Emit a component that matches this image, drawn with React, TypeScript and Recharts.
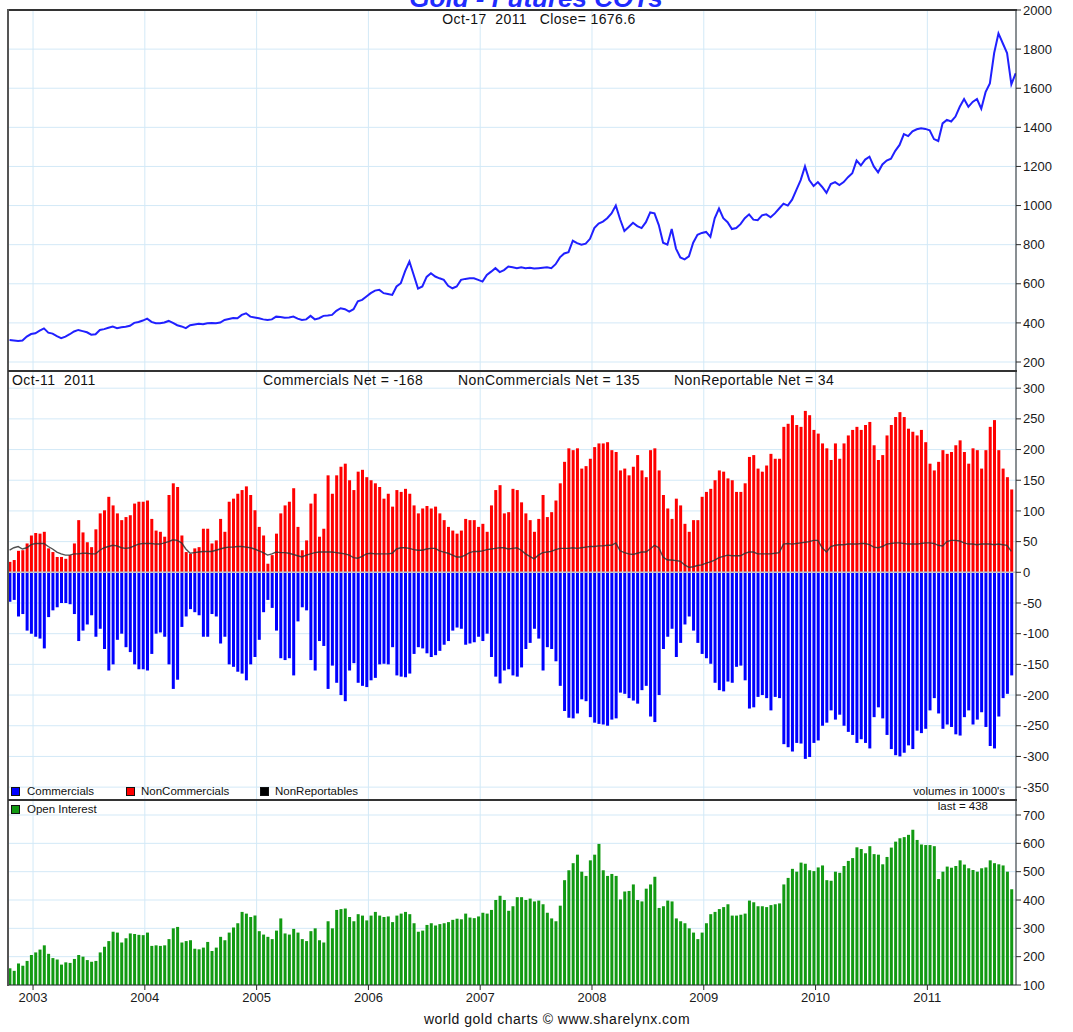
import React from 'react';
import { ComposedChart, Bar, Line, XAxis, YAxis, CartesianGrid, ReferenceLine } from 'recharts';

const FONT = '"Liberation Sans", Arial, Helvetica, sans-serif';
const GRID = '#d3e9f7';
const AXIS = '#2a2a2a';

// first reading early Oct 2002, one reading every two weeks
const firstWeek = 2002.79;
const weeksPerBar = 2;

const yearTicks = [2003, 2004, 2005, 2006, 2007, 2008, 2009, 2010, 2011];
const goldTicks = [200, 400, 600, 800, 1000, 1200, 1400, 1600, 1800, 2000];
const cotTicks = [-350, -300, -250, -200, -150, -100, -50, 0, 50, 100, 150, 200, 250, 300];
const oiTicks = [100, 200, 300, 400, 500, 600, 700];

// gold close (last point = Oct-17 2011 close)
const gold = [
  312, 310, 308, 310, 330, 343, 347, 360, 372, 350, 345, 332, 322, 330, 342, 356, 364, 358, 352, 340,
  342, 364, 368, 375, 381, 373, 378, 380, 385, 400, 405, 412, 422, 405, 398, 398, 402, 410, 400, 388,
  382, 373, 388, 392, 395, 393, 398, 400, 398, 402, 415, 420, 425, 424, 441, 449, 432, 428, 424, 418,
  415, 418, 432, 430, 426, 428, 432, 422, 415, 418, 436, 418, 424, 436, 438, 441, 462, 475, 470, 458,
  470, 510, 518, 535, 552, 565, 569, 552, 548, 543, 586, 603, 665, 714, 645, 575, 586, 635, 654, 637,
  628, 620, 590, 577, 586, 620, 625, 628, 628, 620, 611, 645, 662, 680, 660, 670, 688, 684, 680,
  684, 680, 682, 678, 680, 682, 684, 680, 700, 735, 755, 762, 820, 808, 800, 805, 830, 885, 908, 918,
  935, 960, 1000, 930, 870, 890, 912, 895, 885, 915, 965, 960, 900, 810, 800, 880, 780, 735, 725, 740,
  810, 850, 860, 865, 840, 935, 985, 935, 915, 880, 885, 905, 935, 955, 928, 925, 950, 955, 940, 960,
  985, 1010, 1000, 1030, 1080, 1130, 1200, 1130, 1100, 1120, 1095, 1065, 1110, 1120, 1105, 1120, 1145, 1165, 1230, 1205,
  1235, 1250, 1200, 1170, 1210, 1230, 1240, 1280, 1310, 1365, 1355, 1380, 1390, 1395, 1392, 1385, 1340, 1330, 1420, 1438,
  1430, 1455, 1505, 1545, 1505, 1530, 1545, 1495, 1580, 1625, 1780, 1880, 1830, 1780, 1620, 1676.6,
];

// net positions, thousands of contracts
const nonComm = [
  17, 20, 35, 36, 47, 60, 64, 63, 66, 39, 33, 25, 25, 22, 28, 47, 85, 65, 49, 41,
  70, 96, 101, 123, 109, 96, 85, 90, 93, 112, 115, 115, 117, 87, 68, 66, 58, 126, 145, 139,
  60, 33, 30, 39, 41, 71, 71, 47, 52, 87, 66, 115, 120, 128, 134, 140, 126, 101, 74, 60,
  14, 28, 63, 96, 109, 115, 137, 74, 36, 52, 112, 128, 58, 71, 158, 128, 158, 172, 177, 150,
  134, 164, 167, 155, 150, 145, 139, 120, 128, 107, 134, 131, 136, 128, 109, 96, 104, 108, 104, 107,
  96, 85, 74, 68, 63, 68, 87, 85, 85, 74, 79, 66, 109, 134, 142, 96, 98, 136, 134,
  114, 96, 85, 66, 87, 126, 90, 98, 117, 145, 180, 202, 199, 202, 169, 173, 185, 204, 210, 210,
  212, 199, 196, 166, 169, 158, 172, 191, 166, 155, 199, 202, 166, 126, 104, 87, 120, 109, 79, 66,
  85, 85, 123, 131, 136, 150, 166, 164, 153, 150, 131, 131, 145, 188, 191, 169, 164, 174, 193, 185,
  185, 237, 242, 256, 240, 237, 263, 256, 232, 226, 210, 202, 183, 210, 185, 210, 223, 232, 237, 232,
  240, 245, 207, 183, 191, 223, 240, 253, 261, 253, 234, 229, 223, 232, 212, 177, 166, 180, 199, 193,
  196, 207, 215, 196, 177, 202, 199, 169, 199, 237, 248, 199, 169, 155, 135,
];

const comm = [
  -48, -45, -72, -68, -95, -100, -105, -108, -124, -73, -62, -57, -50, -50, -52, -68, -112, -95, -85, -70,
  -105, -92, -125, -160, -150, -110, -100, -122, -130, -150, -158, -158, -160, -133, -100, -98, -105, -150, -190, -175,
  -89, -72, -60, -65, -70, -105, -105, -68, -72, -116, -105, -150, -154, -162, -165, -176, -150, -138, -110, -65,
  -45, -58, -95, -140, -143, -140, -168, -80, -57, -62, -143, -160, -112, -120, -190, -152, -180, -200, -210, -160,
  -148, -180, -185, -187, -176, -172, -150, -149, -150, -122, -168, -170, -171, -165, -133, -122, -124, -132, -138, -135,
  -128, -118, -112, -95, -90, -92, -118, -116, -114, -105, -112, -100, -138, -170, -181, -160, -158, -168, -170,
  -155, -125, -115, -92, -108, -160, -122, -125, -145, -185, -226, -237, -238, -230, -207, -210, -236, -245, -247, -248,
  -250, -240, -238, -196, -198, -205, -209, -214, -192, -185, -235, -244, -200, -125, -105, -92, -138, -115, -85, -72,
  -95, -115, -133, -140, -149, -180, -192, -194, -178, -180, -154, -152, -176, -222, -220, -203, -200, -205, -225, -203,
  -205, -280, -285, -292, -278, -279, -304, -301, -278, -274, -250, -245, -225, -240, -232, -250, -260, -265, -278, -272,
  -278, -287, -236, -220, -238, -265, -288, -298, -300, -294, -282, -288, -258, -262, -255, -225, -205, -230, -255, -248,
  -252, -264, -266, -236, -225, -248, -240, -228, -252, -283, -287, -235, -205, -198, -168,
];

const nonRep = [
  36, 40, 42, 38, 40, 45, 47, 47, 47, 42, 38, 33, 30, 28, 28, 30, 30, 31, 31, 30,
  30, 36, 40, 42, 44, 43, 40, 39, 40, 43, 46, 47, 47, 47, 46, 46, 48, 50, 53, 52,
  48, 38, 31, 32, 33, 34, 34, 34, 36, 38, 40, 41, 41, 42, 42, 41, 40, 38, 35, 32,
  28, 30, 33, 32, 32, 31, 29, 27, 25, 28, 30, 32, 33, 33, 33, 33, 32, 31, 30, 28,
  24, 23, 26, 30, 31, 30, 30, 30, 30, 31, 38, 40, 40, 39, 37, 36, 36, 38, 39, 39,
  35, 33, 31, 28, 25, 25, 28, 32, 34, 34, 35, 37, 38, 39, 40, 40, 38, 39, 40,
  36, 30, 26, 22, 28, 32, 33, 34, 37, 39, 39, 39, 40, 39, 40, 41, 42, 42, 43, 43,
  44, 44, 48, 35, 32, 30, 29, 31, 33, 33, 38, 44, 40, 25, 20, 20, 19, 18, 12, 8,
  9, 11, 12, 15, 17, 20, 24, 26, 28, 27, 27, 27, 31, 33, 33, 30, 30, 30, 30, 31,
  32, 46, 47, 46, 47, 48, 49, 50, 52, 52, 40, 33, 42, 44, 45, 45, 46, 46, 46, 47,
  47, 45, 41, 40, 42, 46, 47, 48, 48, 47, 46, 46, 46, 47, 48, 48, 47, 44, 43, 50,
  52, 52, 51, 48, 46, 46, 45, 46, 46, 46, 45, 46, 45, 44, 34,
];

const openInt = [
  159, 150, 176, 168, 185, 206, 215, 225, 240, 210, 195, 190, 172, 180, 178, 192, 206, 200, 188, 182,
  185, 215, 235, 255, 288, 285, 250, 265, 282, 280, 277, 276, 285, 238, 240, 238, 240, 262, 300, 305,
  250, 255, 258, 228, 226, 232, 252, 220, 232, 270, 258, 285, 303, 318, 358, 352, 340, 345, 290, 278,
  270, 262, 292, 335, 282, 278, 298, 285, 262, 255, 290, 300, 258, 250, 325, 300, 365, 368, 370, 340,
  325, 350, 345, 328, 345, 358, 345, 340, 342, 322, 345, 352, 358, 350, 318, 288, 292, 312, 318, 310,
  315, 318, 322, 330, 334, 332, 352, 338, 336, 342, 355, 352, 365, 400, 415, 400, 362, 378, 410,
  410, 400, 405, 395, 398, 385, 355, 335, 325, 380, 470, 505, 530, 560, 500, 485, 540, 560, 598, 505,
  485, 492, 485, 402, 430, 432, 455, 400, 395, 440, 455, 482, 372, 378, 398, 395, 335, 325, 318, 300,
  285, 262, 285, 318, 350, 358, 368, 375, 385, 345, 345, 348, 352, 398, 392, 378, 378, 375, 382, 385,
  388, 455, 478, 510, 500, 532, 528, 505, 502, 515, 522, 470, 468, 500, 496, 520, 538, 548, 586, 580,
  565, 590, 562, 560, 526, 552, 585, 606, 618, 622, 630, 648, 612, 596, 594, 594, 590, 474, 500, 518,
  514, 520, 540, 525, 512, 506, 500, 512, 515, 540, 530, 526, 522, 500, 438,
];

const when = (i: number) => firstWeek + (i * weeksPerBar) / 52;
const priceData = gold.map((v, i) => ({ t: when(i), gold: v }));
const cotData = nonComm.map((v, i) => ({
  t: when(i),
  nonComm: v,
  comm: comm[i],
  nonRep: nonRep[i],
  oi: openInt[i],
}));

const W = 1073;
const X_DOMAIN: [number, number] = [2002.776, 2011.793];
const tickStyle = { fontSize: 13, fill: '#1a1a1a', fontFamily: FONT };

type TxtProps = {
  x: number; y: number; size: number; align?: 'left' | 'center' | 'right';
  color?: string; weight?: number; italic?: boolean; spacing?: number; children: React.ReactNode;
};
function Txt({ x, y, size, align = 'left', color = '#111', weight = 400, italic = false, spacing = 0, children }: TxtProps) {
  const tx = align === 'center' ? '-50%' : align === 'right' ? '-100%' : '0';
  return (
    <div
      style={{
        position: 'absolute', left: x, top: y, transform: `translate(${tx}, -50%)`,
        fontSize: size, lineHeight: 1, fontFamily: FONT, color, fontWeight: weight,
        fontStyle: italic ? 'italic' : 'normal', letterSpacing: spacing, whiteSpace: 'pre',
      }}
    >
      {children}
    </div>
  );
}

function Swatch({ x, y, color }: { x: number; y: number; color: string }) {
  return (
    <div style={{ position: 'absolute', left: x, top: y, width: 9, height: 9, background: color, border: '1px solid #111', boxSizing: 'border-box' }} />
  );
}

function Rule({ x, y, w, h, color = '#333' }: { x: number; y: number; w: number; h: number; color?: string }) {
  return <div style={{ position: 'absolute', left: x, top: y, width: w, height: h, background: color }} />;
}

export default function App() {
  return (
    <div style={{ position: 'absolute', left: 0, top: 0, width: W, height: 1032, background: '#fff', overflow: 'hidden' }}>
      {/* gold price */}
      <div style={{ position: 'absolute', left: 0, top: 0 }}>
        <ComposedChart width={W} height={372} data={priceData} margin={{ top: 10, right: 0, bottom: 1, left: 8 }}>
          <CartesianGrid stroke={GRID} />
          <XAxis type="number" dataKey="t" domain={X_DOMAIN} ticks={yearTicks} allowDataOverflow hide />
          <YAxis orientation="right" width={57} domain={[154, 2000]} ticks={goldTicks} interval={0} allowDataOverflow
            tickSize={5} tickMargin={2} axisLine={{ stroke: AXIS }} tickLine={{ stroke: AXIS }} tick={tickStyle} />
          <Line type="linear" dataKey="gold" stroke="#2020ff" strokeWidth={2} dot={false} isAnimationActive={false} />
        </ComposedChart>
      </div>

      {/* COT net positions */}
      <div style={{ position: 'absolute', left: 0, top: 371 }}>
        <ComposedChart width={W} height={429} data={cotData} stackOffset="sign" margin={{ top: 0, right: 0, bottom: 0, left: 8 }}>
          <CartesianGrid stroke={GRID} />
          <XAxis type="number" dataKey="t" domain={X_DOMAIN} ticks={yearTicks} allowDataOverflow hide />
          <YAxis orientation="right" width={57} domain={[-371, 328]} ticks={cotTicks} interval={0} allowDataOverflow
            tickSize={5} tickMargin={2} axisLine={{ stroke: AXIS }} tickLine={{ stroke: AXIS }} tick={tickStyle} />
          <Bar dataKey="nonComm" stackId="net" fill="#ff0000" barSize={3} isAnimationActive={false} />
          <Bar dataKey="comm" stackId="net" fill="#0000ff" barSize={3} isAnimationActive={false} />
          <ReferenceLine y={0} stroke="#c4c4c4" strokeWidth={1.5} />
          <Line type="linear" dataKey="nonRep" stroke="#333" strokeWidth={1.4} strokeOpacity={0.85} dot={false} isAnimationActive={false} />
        </ComposedChart>
      </div>

      {/* open interest */}
      <div style={{ position: 'absolute', left: 0, top: 800 }}>
        <ComposedChart width={W} height={232} data={cotData} margin={{ top: 0, right: 0, bottom: 17, left: 8 }}>
          <CartesianGrid stroke={GRID} />
          <XAxis type="number" dataKey="t" domain={X_DOMAIN} ticks={yearTicks} interval={0} allowDataOverflow height={30}
            tickSize={5} tickMargin={3} axisLine={{ stroke: AXIS }} tickLine={{ stroke: AXIS }} tick={tickStyle} />
          <YAxis orientation="right" width={57} domain={[100, 753]} ticks={oiTicks} interval={0} allowDataOverflow
            tickSize={5} tickMargin={2} axisLine={{ stroke: AXIS }} tickLine={{ stroke: AXIS }} tick={tickStyle} />
          <Bar dataKey="oi" fill="#129a12" barSize={3} isAnimationActive={false} />
        </ComposedChart>
      </div>

      {/* frame */}
      <Rule x={7} y={9} w={1010} h={2} />
      <Rule x={7} y={9} w={2} h={977} color="#555" />
      <Rule x={8} y={370} w={1009} h={2} />
      <Rule x={8} y={799} w={1009} h={2} />

      {/* titles and notes */}
      <Txt x={536} y={-2} size={26} align="center" color="#1f2cff" weight={700} italic>Gold - Futures COTs</Txt>
      <Txt x={539} y={19} size={14} align="center" spacing={0.4}>{'Oct-17  2011   Close= 1676.6'}</Txt>

      <Txt x={12} y={380} size={14} spacing={0.4}>{'Oct-11  2011'}</Txt>
      <Txt x={263} y={380} size={14} spacing={0.4}>Commercials Net = -168</Txt>
      <Txt x={458} y={380} size={14} spacing={0.4}>NonCommercials Net = 135</Txt>
      <Txt x={674} y={380} size={14} spacing={0.4}>NonReportable Net = 34</Txt>

      <Swatch x={11} y={787} color="#0000ff" />
      <Txt x={27} y={792} size={11.5}>Commercials</Txt>
      <Swatch x={126} y={787} color="#ff0000" />
      <Txt x={141} y={792} size={11.5}>NonCommercials</Txt>
      <Swatch x={260} y={787} color="#000" />
      <Txt x={275} y={792} size={11.5}>NonReportables</Txt>
      <Txt x={1005} y={792} size={11.5} align="right">volumes in 1000's</Txt>

      <Swatch x={11} y={805} color="#129a12" />
      <Txt x={27} y={810} size={11.5}>Open Interest</Txt>
      <Txt x={988} y={807} size={11.5} align="right">last = 438</Txt>

      <Txt x={557} y={1019} size={14} align="center" spacing={0.5}>world gold charts © www.sharelynx.com</Txt>
    </div>
  );
}
